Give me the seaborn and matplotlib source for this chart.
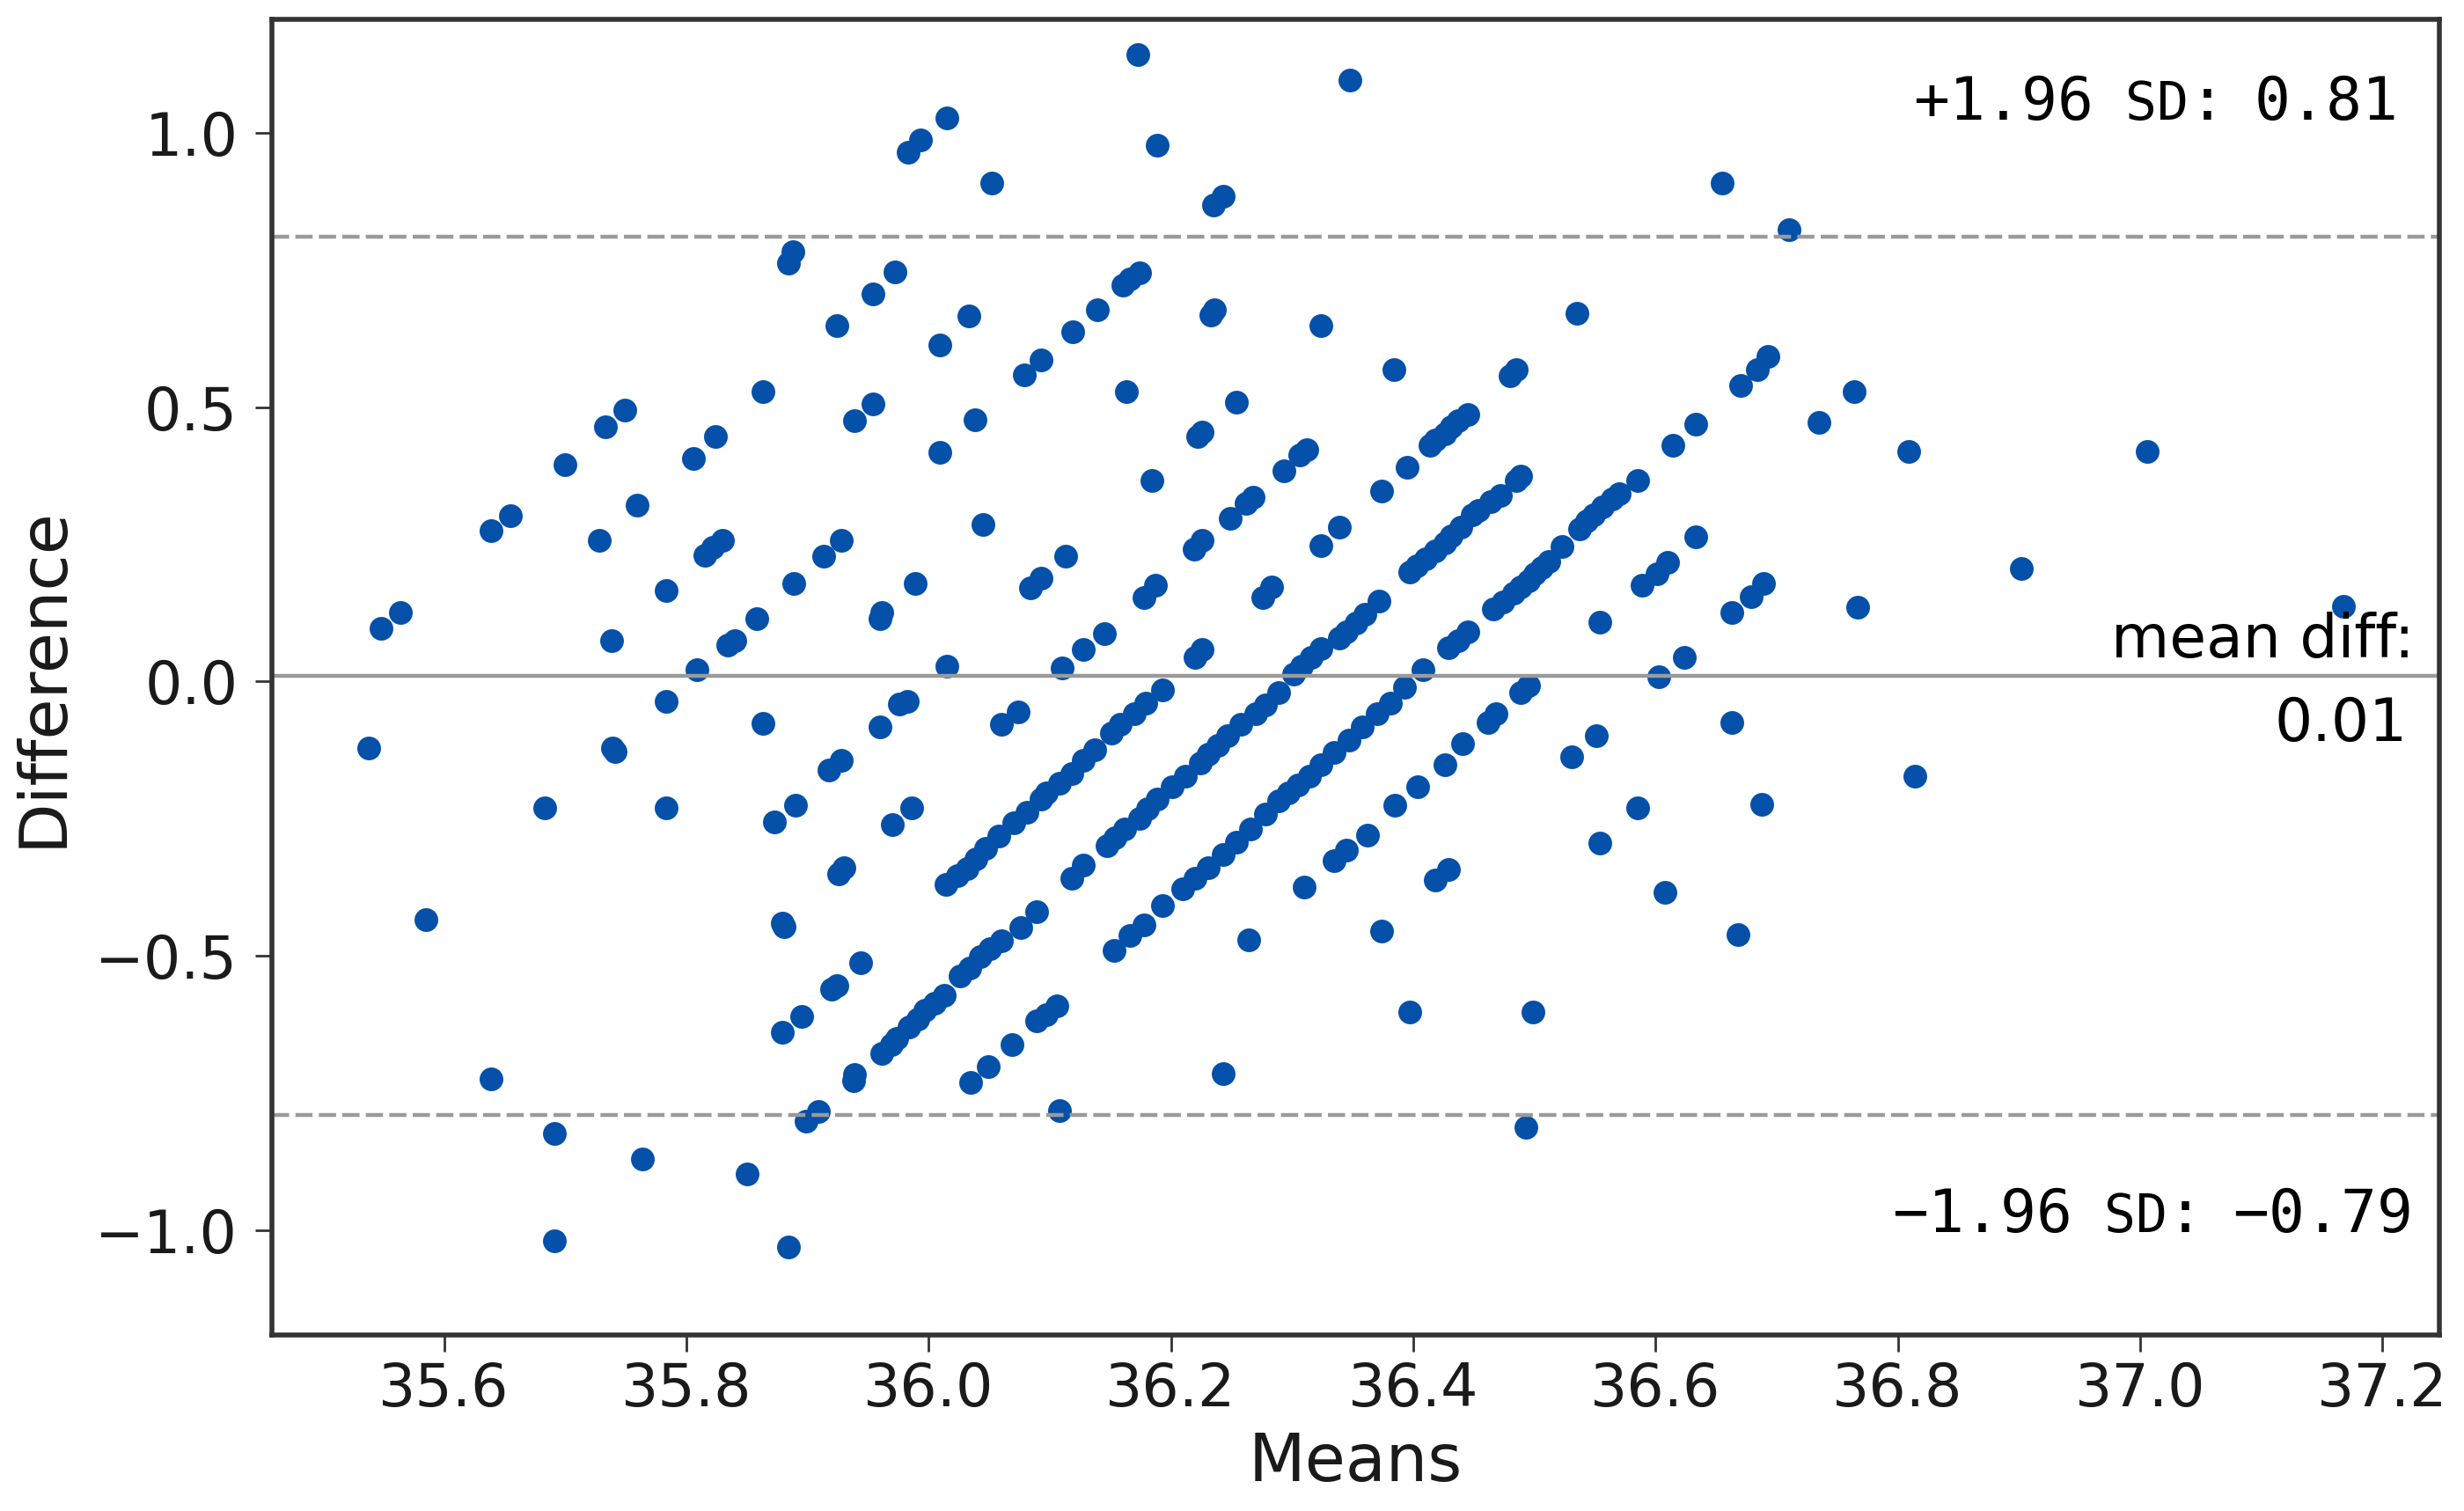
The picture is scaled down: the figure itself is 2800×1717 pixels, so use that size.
import matplotlib
matplotlib.use("Agg")
import matplotlib.pyplot as plt
import numpy as np
import pandas as pd
import seaborn as sns
from matplotlib.offsetbox import TextArea, HPacker, DrawingArea, AnnotationBbox

# ---------------- data ----------------
means = [
    # upper-left region
    36.015, 35.993, 35.983, 36.052, 35.888, 35.884, 35.972, 35.954, 35.924, 36.033, 36.009,
    35.863, 35.749, 35.733, 35.700, 35.824, 35.806, 35.954, 35.939, 36.038, 36.009,
    35.655, 35.639, 35.759, 35.728, 35.830, 35.822, 35.815,
    36.045, 35.928, 35.913, 35.783, 35.889, 35.989,
    35.961, 35.960, 35.564, 35.548, 35.738, 35.858, 35.840, 35.834, 35.809, 36.015,
    # upper-middle region
    36.173, 36.348, 36.189, 36.243, 36.235,
    36.174, 36.166, 36.160, 36.139, 36.119, 36.093, 36.079,
    36.236, 36.233, 36.324, 36.535, 36.384, 36.485, 36.480,
    36.163, 36.254, 36.226, 36.222,
    36.445, 36.437, 36.431, 36.426, 36.418, 36.414,
    36.312, 36.306, 36.293, 36.395, 36.374, 36.184,
    36.268, 36.262, 36.249, 36.226, 36.219, 36.339, 36.324,
    36.439, 36.431, 36.426, 36.418, 36.410, 36.403, 36.397,
    36.489, 36.485, 36.472, 36.464, 36.454, 36.449,
    36.585, 36.614, 36.633,
    36.570, 36.564, 36.556, 36.549, 36.543, 36.537,
    36.523,
    36.512, 36.506, 36.500, 36.495, 36.489, 36.483, 36.474, 36.466,
    36.633, 36.610, 36.601, 36.589, 36.554, 36.624, 36.603,
    36.113, 36.093, 36.084, 36.187, 36.178, 36.283, 36.276,
    36.372, 36.360, 36.353, 36.345, 36.339,
    36.145, 36.128, 36.226, 36.220, 36.110,
    36.445, 36.437, 36.429,
    36.324, 36.316, 36.308, 36.301,
    36.408,
    # upper-right region
    36.655, 36.710, 36.693, 36.684, 36.670, 36.764, 36.735,
    36.809, 37.006, 36.902, 36.689, 36.679, 36.663, 36.767, 37.168,
    # lower-left region
    35.538, 35.739, 35.741, 35.783, 35.863, 35.683, 35.783, 35.873, 35.890,
    35.928, 35.918, 35.960, 35.982, 35.976,
    35.986, 35.970, 35.585, 35.879, 35.881, 35.930, 35.926,
    36.014, 36.024, 36.032, 36.039,
    35.944, 35.924, 35.920, 35.895, 35.879, 35.639,
    35.938, 35.939, 35.961, 35.969, 35.974, 35.984, 35.991, 35.997, 36.005, 36.013,
    36.026, 36.034, 36.043, 36.051,
    35.909, 35.899, 35.691, 35.764, 35.850, 35.691, 35.884,
    36.035, 36.049,
    # lower-middle region
    36.047, 36.058, 36.070, 36.081, 36.093, 36.097, 36.108, 36.118, 36.128, 36.137,
    36.151, 36.158, 36.170, 36.179, 36.193,
    36.147, 36.154, 36.162, 36.174, 36.181, 36.189, 36.201, 36.212, 36.224, 36.231,
    36.239, 36.247, 36.258, 36.270, 36.278, 36.289,
    36.153, 36.166, 36.178, 36.193, 36.210, 36.220, 36.231, 36.243, 36.254, 36.266,
    36.278, 36.289, 36.297, 36.305, 36.314, 36.324, 36.335, 36.347, 36.358, 36.370,
    36.381, 36.393,
    36.310, 36.335, 36.345, 36.362, 36.385, 36.404, 36.426, 36.441, 36.462, 36.468,
    36.489, 36.495,
    36.060, 36.074, 36.118, 36.128, 36.060, 36.076, 36.089,
    36.069, 36.089, 36.097, 36.106,
    36.264, 36.374, 36.418, 36.429, 36.397, 36.499, 36.243, 36.108, 36.493,
    36.531, 36.551, 36.585, 36.554, 36.608,
    # lower-right region
    36.663, 36.688, 36.814, 36.668,
]

diffs = [
    # upper-left region
    1.027, 0.987, 0.964, 0.908, 0.783, 0.763, 0.746, 0.706, 0.649, 0.666, 0.614,
    0.528, 0.495, 0.464, 0.396, 0.447, 0.407, 0.506, 0.475, 0.477, 0.418,
    0.303, 0.275, 0.322, 0.258, 0.258, 0.244, 0.230,
    0.287, 0.258, 0.228, 0.166, 0.178, 0.178,
    0.126, 0.114, 0.126, 0.097, 0.074, 0.114, 0.074, 0.067, 0.021, 0.028,
    # upper-middle region
    1.143, 1.097, 0.977, 0.885, 0.868,
    0.745, 0.734, 0.722, 0.677, 0.637, 0.586, 0.559,
    0.677, 0.668, 0.649, 0.672, 0.569, 0.569, 0.557,
    0.528, 0.510, 0.455, 0.447,
    0.487, 0.475, 0.464, 0.452, 0.440, 0.430,
    0.423, 0.413, 0.384, 0.390, 0.347, 0.367,
    0.336, 0.324, 0.298, 0.258, 0.242, 0.281, 0.248,
    0.281, 0.266, 0.252, 0.238, 0.224, 0.211, 0.199,
    0.374, 0.367, 0.339, 0.328, 0.312, 0.304,
    0.367, 0.430, 0.469,
    0.343, 0.332, 0.318, 0.304, 0.293, 0.279,
    0.246,
    0.219, 0.207, 0.196, 0.184, 0.172, 0.161, 0.145, 0.133,
    0.263, 0.217, 0.196, 0.176, 0.108, 0.044, 0.009,
    0.229, 0.189, 0.170, 0.176, 0.153, 0.172, 0.153,
    0.147, 0.122, 0.106, 0.091, 0.079,
    0.087, 0.058, 0.058, 0.044, 0.025,
    0.091, 0.075, 0.061,
    0.060, 0.044, 0.028, 0.013,
    0.021,
    # upper-right region
    0.908, 0.824, 0.592, 0.569, 0.540, 0.528, 0.472,
    0.419, 0.419, 0.206, 0.178, 0.155, 0.126, 0.136, 0.137,
    # lower-left region
    -0.121, -0.121, -0.127, -0.036, -0.076, -0.231, -0.231, -0.256, -0.225,
    -0.144, -0.162, -0.082, -0.036, -0.041,
    -0.230, -0.261, -0.434, -0.440, -0.446, -0.339, -0.350,
    -0.370, -0.354, -0.341, -0.323,
    -0.512, -0.554, -0.560, -0.611, -0.640, -0.725,
    -0.728, -0.716, -0.677, -0.662, -0.650, -0.630, -0.615, -0.599, -0.586, -0.572,
    -0.537, -0.522, -0.502, -0.487,
    -0.784, -0.801, -0.823, -0.870, -0.897, -1.019, -1.031,
    -0.730, -0.702,
    # lower-middle region
    -0.304, -0.281, -0.257, -0.238, -0.214, -0.203, -0.185, -0.168, -0.144, -0.125,
    -0.094, -0.078, -0.059, -0.039, -0.016,
    -0.300, -0.284, -0.269, -0.249, -0.232, -0.214, -0.191, -0.172, -0.148, -0.133,
    -0.117, -0.098, -0.078, -0.059, -0.043, -0.020,
    -0.490, -0.463, -0.444, -0.409, -0.378, -0.358, -0.339, -0.315, -0.292, -0.269,
    -0.242, -0.218, -0.203, -0.188, -0.172, -0.152, -0.129, -0.106, -0.082, -0.059,
    -0.039, -0.010,
    -0.374, -0.327, -0.308, -0.280, -0.226, -0.191, -0.152, -0.113, -0.074, -0.059,
    -0.020, -0.008,
    -0.078, -0.055, -0.358, -0.335, -0.472, -0.448, -0.419,
    -0.661, -0.619, -0.607, -0.591,
    -0.471, -0.455, -0.362, -0.343, -0.603, -0.603, -0.714, -0.782, -0.812,
    -0.137, -0.098, -0.230, -0.294, -0.385,
    # lower-right region
    -0.074, -0.224, -0.173, -0.461,
]

mean_diff = 0.01
upper_loa = 0.81
lower_loa = -0.79

x_ticks = [35.6, 35.8, 36.0, 36.2, 36.4, 36.6, 36.8, 37.0, 37.2]
y_ticks = [-1.0, -0.5, 0.0, 0.5, 1.0]
x_label = "Means"
y_label = "Difference"

# ---------------- figure ----------------
sns.set_style("white")
plt.rcParams["font.family"] = ["DejaVu Sans"]
plt.rcParams["axes.unicode_minus"] = True

fig = plt.figure(figsize=(14, 8.585), dpi=200)
ax = fig.add_axes([0.1104, 0.1165, 0.8796, 0.8707])

df = pd.DataFrame({"Means": means, "Difference": diffs})
sns.scatterplot(data=df, x="Means", y="Difference", ax=ax,
                s=94, color="#0550a8", linewidth=0, alpha=1.0, zorder=1)

line_col = "#9a9a9a"
ax.axhline(mean_diff, color=line_col, lw=1.6, zorder=2)
for v in (upper_loa, lower_loa):
    ax.axhline(v, color=line_col, lw=1.6, ls=(0, (4.4, 1.6)), zorder=2)

ax.set_xlim(35.458, 37.247)
ax.set_ylim(-1.191, 1.207)
ax.set_xticks(x_ticks)
ax.set_xticklabels([f"{t:.1f}" for t in x_ticks])
ax.set_yticks(y_ticks)
ax.set_yticklabels([f"{t:.1f}".replace("-", "\u2212") for t in y_ticks])

for s in ax.spines.values():
    s.set_visible(True)
    s.set_linewidth(2.0)
    s.set_color("#333333")

ax.tick_params(axis="both", which="major", bottom=True, left=True,
               length=7, width=1.0, color="#333333", labelsize=24,
               labelcolor="#1a1a1a", direction="out")
ax.tick_params(axis="x", pad=3.6)
ax.tick_params(axis="y", pad=7)

ax.set_xlabel(x_label, fontsize=27, labelpad=5, color="#1a1a1a")
ax.set_ylabel(y_label, fontsize=27, labelpad=8, color="#1a1a1a")


def sd_label(sign_txt, val_txt, xy):
    big = dict(family="DejaVu Sans Mono", size=24.5, color="black")
    small = dict(family="DejaVu Sans Mono", size=21.5, color="black")
    kids = [TextArea(sign_txt, textprops=big),
            DrawingArea(13.0, 0.1),
            TextArea("SD", textprops=small),
            TextArea(":", textprops=big),
            DrawingArea(12.0, 0.1),
            TextArea(val_txt, textprops=big)]
    pack = HPacker(children=kids, align="baseline", pad=0, sep=0)
    ab = AnnotationBbox(pack, xy, xycoords="axes fraction", box_alignment=(1, 0),
                        frameon=False, pad=0, annotation_clip=False, zorder=5)
    ax.add_artist(ab)


sd_label("+1.96", f"{upper_loa:.2f}", (0.9812, 0.9144))
sd_label("\u22121.96", f"{lower_loa:.2f}".replace("-", "\u2212"), (0.9880, 0.0689))

ax.text(0.9886, 0.5151, "mean diff:", transform=ax.transAxes, ha="right",
        va="baseline", fontsize=24.5, color="black")
ax.text(0.9854, 0.4515, f"{mean_diff:.2f}", transform=ax.transAxes, ha="right",
        va="baseline", fontsize=24.5, color="black")

fig.savefig("out.png", dpi=200, facecolor="white")
